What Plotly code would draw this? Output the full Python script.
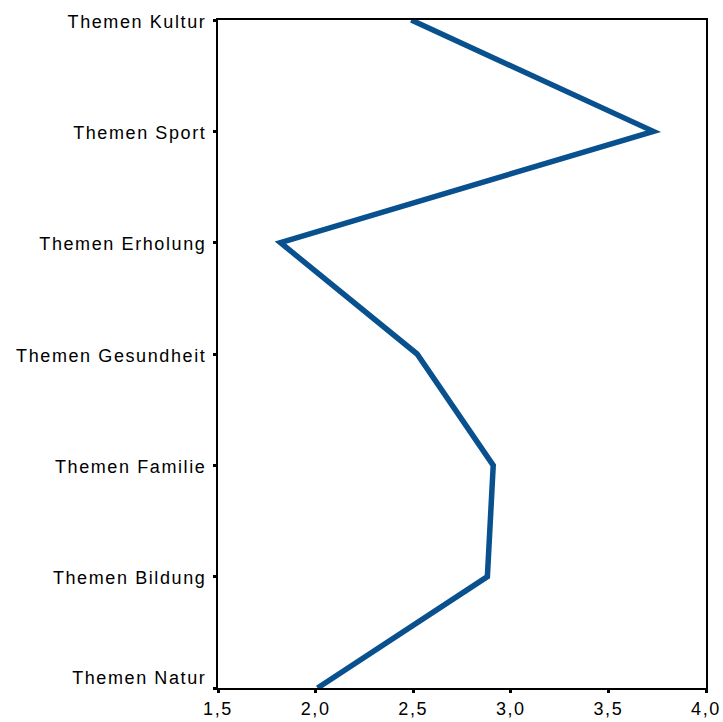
import plotly.graph_objects as go

categories = ["Themen Kultur", "Themen Sport", "Themen Erholung", "Themen Gesundheit",
              "Themen Familie", "Themen Bildung", "Themen Natur"]
values = [2.49, 3.73, 1.82, 2.52, 2.91, 2.88, 2.01]
x_ticks = [1.5, 2.0, 2.5, 3.0, 3.5, 4.0]

fig = go.Figure(go.Scatter(
    x=values, y=categories, mode="lines",
    line=dict(color="#08508e", width=5.5), cliponaxis=False,
))

fig.update_layout(
    width=723, height=722,
    margin=dict(l=218, r=17, t=20, b=34, autoexpand=False),
    paper_bgcolor="white", plot_bgcolor="white",
    separators=",.",
    showlegend=False,
    font=dict(family="Liberation Sans, Arial, sans-serif", size=18, color="black"),
)
fig.update_xaxes(
    range=[1.5, 4.0], tickvals=x_ticks, tickformat=".1f",
    showgrid=False, zeroline=False, automargin=False,
    showline=True, linecolor="black", linewidth=2, mirror=True,
    ticks="outside", ticklen=3, tickwidth=3, tickcolor="black",
)
fig.update_yaxes(
    type="category", categoryorder="array", categoryarray=categories[::-1],
    range=[0, 6], automargin=False,
    showgrid=False, zeroline=False,
    showline=True, linecolor="black", linewidth=2, mirror=True,
    ticks="outside", ticklen=3, tickwidth=3, tickcolor="black",
    ticklabelstandoff=3,
)

post = """
document.body.style.margin = '0';
document.body.style.overflow = 'hidden';
document.querySelectorAll('.xtick text, .ytick text').forEach(function(t){
  t.style.letterSpacing = '1.6px';
});
document.querySelectorAll('.ytick text').forEach(function(t){
  var y = parseFloat(t.getAttribute('y')) || 0;
  if (t.textContent.indexOf('Natur') >= 0) { y -= 10; } else { y += 1.5; }
  t.setAttribute('y', y);
});
document.querySelectorAll('.js-line').forEach(function(p){
  p.style.strokeLinejoin = 'miter';
  p.style.strokeMiterlimit = '10';
});
"""
fig.write_html("out.html", post_script=post, config={"displayModeBar": False})
